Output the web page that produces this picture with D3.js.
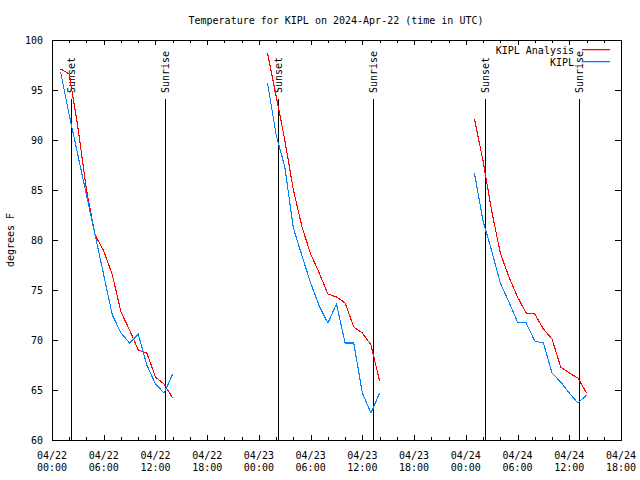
<!DOCTYPE html>
<html>
<head>
<meta charset="utf-8">
<script src="https://cdn.jsdelivr.net/npm/d3@7"></script>
<style>
  html, body { margin: 0; padding: 0; background: #fff; }
  svg text { font-family: "DejaVu Sans Mono", monospace; font-size: 10px; fill: #000; }
</style>
</head>
<body>
<svg id="chart" width="640" height="480"></svg>
<script>
// ---- data (hours since 2024-04-22 00:00 UTC) ----
const hours = [1,2,3,4,5,6,7,8,9,10,11,12,13,14,
               25,26,27,28,29,30,31,32,33,34,35,36,37,38,
               49,50,51,52,53,54,55,56,57,58,59,60,61,62];
const analysisTemps = [97.1,96.6,91.3,85.0,80.5,78.9,76.5,72.8,71.0,69.0,68.7,66.3,65.6,64.2,
                       98.7,94.4,90.0,85.0,81.3,78.6,76.7,74.6,74.3,73.7,71.3,70.7,69.5,65.9,
                       92.1,87.9,82.9,78.7,76.3,74.3,72.7,72.6,71.1,70.1,67.3,66.7,66.2,64.7];
const observedTemps = [96.8,92.5,88.5,84.5,80.5,76.5,72.5,70.7,69.7,70.6,67.5,65.6,64.7,66.6,
                       95.7,90.5,87.3,81.2,78.4,75.7,73.4,71.7,73.6,69.7,69.7,64.7,62.7,64.7,
                       86.7,81.9,78.9,75.7,73.8,71.8,71.7,69.9,69.7,66.7,65.8,64.7,63.7,64.5];
const sunEvents = [
  {label: "Sunset",  hour: 2.2},
  {label: "Sunrise", hour: 13.15},
  {label: "Sunset",  hour: 26.25},
  {label: "Sunrise", hour: 37.2},
  {label: "Sunset",  hour: 50.26},
  {label: "Sunrise", hour: 61.17}
];
const xTickHours = [0,6,12,18,24,30,36,42,48,54,60,66];
const xTickDates = ["04/22","04/22","04/22","04/22","04/23","04/23","04/23","04/23","04/24","04/24","04/24","04/24"];
const xTickTimes = ["00:00","06:00","12:00","18:00","00:00","06:00","12:00","18:00","00:00","06:00","12:00","18:00"];
const yTicks = [60,65,70,75,80,85,90,95,100];
const seriesNames = ["KIPL Analysis", "KIPL"];
const seriesColors = ["#ff0000", "#0080ff"];

// ---- layout ----
const L = 52, R = 621, T = 40, B = 440;
const svg = d3.select("#chart");
const x = d3.scaleLinear().domain([0, 66]).range([L, R]);
const y = d3.scaleLinear().domain([60, 100]).range([B, T]);

// title
svg.append("text").attr("x", 336).attr("y", 24).attr("text-anchor", "middle")
  .text("Temperature for KIPL on 2024-Apr-22 (time in UTC)");

// y label
svg.append("text").attr("transform", "translate(14,240) rotate(-90)")
  .attr("text-anchor", "middle").text("degrees F");

// minor x ticks (every 2 hours)
const minorHours = d3.range(0, 67, 2).filter(h => h % 6 !== 0);

function styleAxis(g) {
  g.select(".domain").remove();
  g.selectAll("line").attr("stroke", "#000").attr("shape-rendering", "crispEdges");
}

// bottom axis
svg.append("g").attr("transform", `translate(0,${B})`)
  .call(d3.axisBottom(x).tickValues(xTickHours).tickSize(-5).tickFormat(""))
  .call(styleAxis);
svg.append("g").attr("transform", `translate(0,${B})`)
  .call(d3.axisBottom(x).tickValues(minorHours).tickSize(-3).tickFormat(""))
  .call(styleAxis);
// top axis mirror
svg.append("g").attr("transform", `translate(0,${T})`)
  .call(d3.axisTop(x).tickValues(xTickHours).tickSize(-5).tickFormat(""))
  .call(styleAxis);
svg.append("g").attr("transform", `translate(0,${T})`)
  .call(d3.axisTop(x).tickValues(minorHours).tickSize(-3).tickFormat(""))
  .call(styleAxis);

// x tick labels (two lines)
const xl = svg.append("g");
xTickHours.forEach((h, i) => {
  const t = xl.append("text").attr("x", x(h)).attr("text-anchor", "middle");
  t.append("tspan").attr("x", x(h)).attr("y", 459).text(xTickDates[i]);
  t.append("tspan").attr("x", x(h)).attr("y", 471).text(xTickTimes[i]);
});

// left axis
svg.append("g").attr("transform", `translate(${L},0)`)
  .call(d3.axisLeft(y).tickValues(yTicks).tickSize(-6).tickPadding(9).tickFormat(d3.format("d")))
  .call(styleAxis)
  .call(g => g.selectAll("text").attr("fill", "#000").style("font-family", "DejaVu Sans Mono, monospace").style("font-size", "10px"));
// right axis mirror
svg.append("g").attr("transform", `translate(${R},0)`)
  .call(d3.axisRight(y).tickValues(yTicks).tickSize(-6).tickFormat(""))
  .call(styleAxis);

// border
svg.append("rect").attr("x", L + 0.5).attr("y", T + 0.5)
  .attr("width", R - L).attr("height", B - T)
  .attr("fill", "none").attr("stroke", "#000").attr("shape-rendering", "crispEdges");

// sun event lines
const sun = svg.append("g");
sunEvents.forEach(ev => {
  const xp = Math.round(x(ev.hour)) + 0.5;
  sun.append("line").attr("x1", xp).attr("x2", xp).attr("y1", y(100) + 59).attr("y2", B)
    .attr("stroke", "#000").attr("stroke-width", 1).attr("shape-rendering", "crispEdges");
  sun.append("text").attr("transform", `translate(${xp},93) rotate(-90)`)
    .attr("dy", "0.35em").attr("text-anchor", "start").text(ev.label);
});

// series lines (split into segments where hours jump)
function segments(vals) {
  const segs = [];
  let cur = [];
  hours.forEach((h, i) => {
    if (cur.length && h - cur[cur.length - 1].h > 1) { segs.push(cur); cur = []; }
    cur.push({h, v: vals[i]});
  });
  if (cur.length) segs.push(cur);
  return segs;
}
const line = d3.line().x(d => x(d.h)).y(d => y(d.v));
[analysisTemps, observedTemps].forEach((vals, si) => {
  svg.append("g").selectAll("path").data(segments(vals)).join("path")
    .attr("d", line).attr("fill", "none")
    .attr("stroke", seriesColors[si]).attr("stroke-width", 1.1)
    .attr("shape-rendering", "crispEdges");
});

// legend
const legY = [50, 62];
seriesNames.forEach((name, i) => {
  svg.append("text").attr("x", 574).attr("y", legY[i]).attr("dy", "0.35em")
    .attr("text-anchor", "end").text(name);
  svg.append("rect").attr("x", 582).attr("y", legY[i] - 1).attr("width", 28).attr("height", 1.3)
    .attr("fill", seriesColors[i]).attr("stroke", "none");
});
</script>
</body>
</html>
